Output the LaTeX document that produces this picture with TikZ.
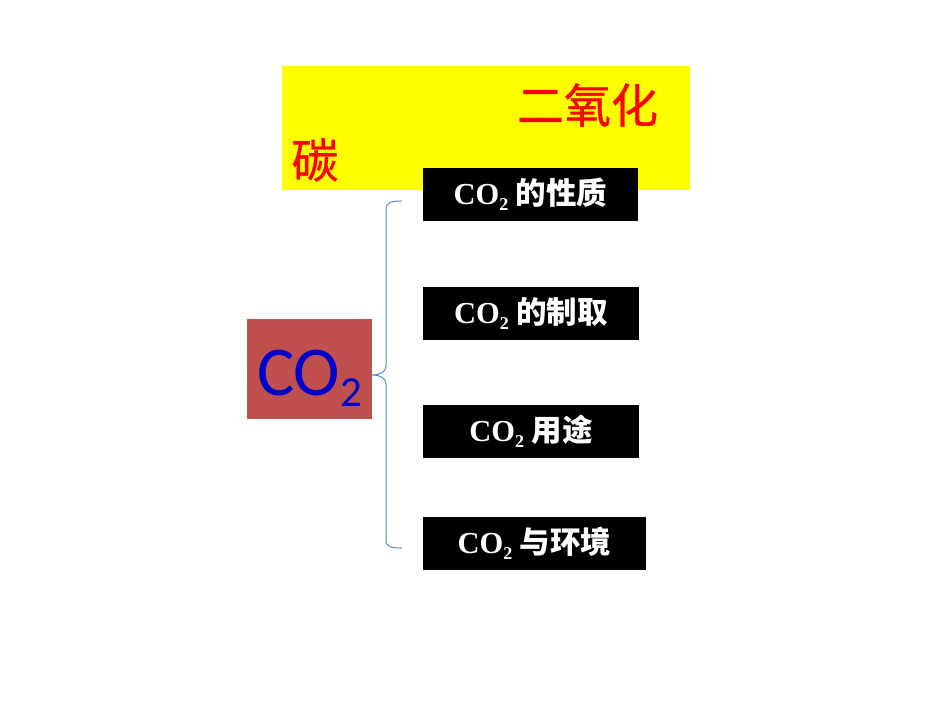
\documentclass[tikz,border=0pt]{standalone}
\usepackage{fontspec}
\setmainfont{Liberation Serif}
\newfontfamily\cjk{Noto Sans CJK SC}
\newfontfamily\cjkm[FakeBold=0.7]{Noto Sans CJK SC}
\newfontfamily\calib{Carlito}
\definecolor{bracec}{HTML}{5F86BE}
\definecolor{redbox}{HTML}{C0504D}
\definecolor{cotext}{HTML}{0000CC}
\definecolor{titlered}{HTML}{FF0000}
\definecolor{titleyel}{HTML}{FFFF00}
\newcommand\cotwo{CO\raisebox{-6pt}{\fontsize{18}{18}\selectfont 2}}
\tikzset{
  blk/.style={fill=black, text=white, inner sep=0pt, minimum height=53pt,
    font=\fontsize{30.5}{30.5}\selectfont\bfseries},
  bracel/.style={draw=bracec, line width=1pt},
  ttl/.style={text=titlered, inner sep=0pt, font=\cjkm\fontsize{47}{47}\selectfont}
}
\begin{document}
\begin{tikzpicture}[x=1pt,y=-1pt]
\useasboundingbox (0,0) rectangle (950,713);
\node[fill=titleyel, minimum width=408pt, minimum height=124pt, inner sep=0pt, anchor=north west] (title) at (282,66) {};
\node[ttl] (t1) at (587.5,105) {二氧化};
\node[ttl] (t2) at (315,160) {碳};
\node[blk, minimum width=215pt] (p1) at (530.5,194.5) {\cotwo\ {\cjk 的性质}};
\node[blk, minimum width=216pt] (p2) at (531,313) {\cotwo\ {\cjk 的制取}};
\node[blk, minimum width=216pt] (p3) at (531,431.5) {\cotwo\ {\cjk 用途}};
\node[blk, minimum width=223pt] (p4) at (534.5,543.5) {\cotwo\ {\cjk 与环境}};
\node[fill=redbox, minimum width=125pt, minimum height=100pt, inner sep=0pt] (co) at (309.5,369) {};
\node[inner sep=0pt, text=cotext, font=\calib\fontsize{70}{70}\selectfont, anchor=base] (cot) at (309.5,395)
  {CO\raisebox{-11pt}{\fontsize{43}{43}\selectfont 2}};
\coordinate (bt) at (402,201);
\coordinate (bb) at (402,548);
\coordinate (tip) at (372,375);
\draw[bracel] (bt) .. controls (391,201) and (386,202) .. (386,210) -- (386,366)
  .. controls (386,372) and (380,375) .. (tip)
  .. controls (380,375) and (386,378) .. (386,384) -- (386,540)
  .. controls (386,547) and (391,548) .. (bb);
\end{tikzpicture}
\end{document}
